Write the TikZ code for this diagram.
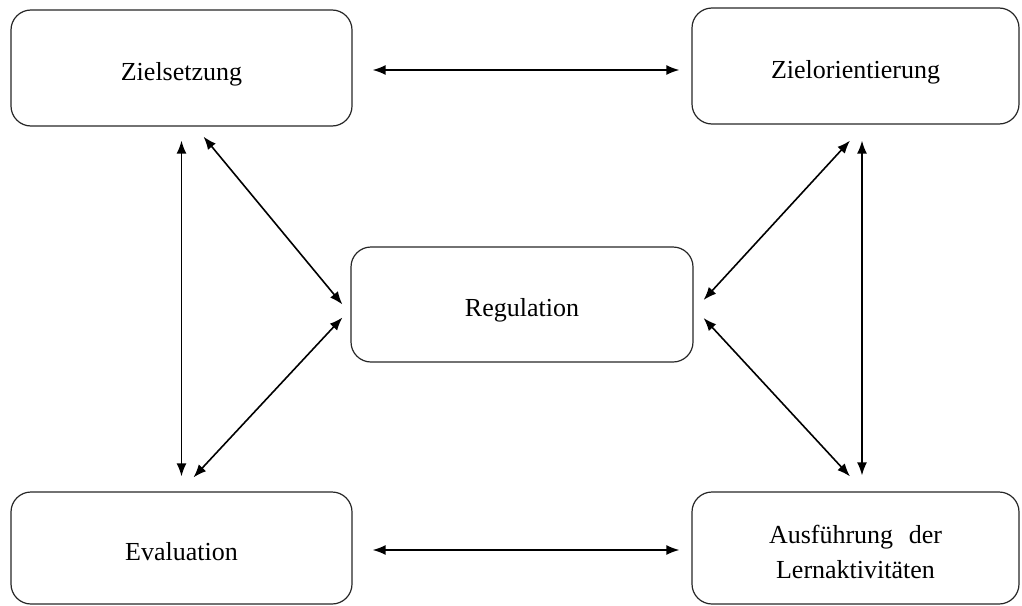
\documentclass[tikz,border=0pt]{standalone}
\usepackage{fontspec}
\setmainfont{Liberation Serif}
\usetikzlibrary{arrows.meta}
\begin{document}
\begin{tikzpicture}[x=1pt,y=-1pt,
  phase/.style={draw=black!85, line width=1.2pt, rounded corners=20pt,
    align=center, inner sep=0pt, font=\fontsize{26}{35}\selectfont},
  link/.style={line width=1.6pt, {Latex[length=13pt,width=10pt]}-{Latex[length=13pt,width=10pt]}}]
  \useasboundingbox (0,0) rectangle (1022,605);
  % phases of the cycle
  \node[phase, minimum width=341pt, minimum height=116pt, text height=30pt] (zs) at (181.5,68) {Zielsetzung};
  \node[phase, minimum width=327pt, minimum height=116pt, text height=30pt] (zo) at (855.5,66) {Zielorientierung};
  \node[phase, minimum width=342pt, minimum height=115pt, text height=30pt] (rg) at (522,304.5) {Regulation};
  \node[phase, minimum width=341pt, minimum height=112pt, text height=26pt] (ev) at (181.5,548) {Evaluation};
  \node[phase, minimum width=327pt, minimum height=112pt, text height=62pt] (au) at (855.5,548) {Ausführung\hspace{0.6em}der\\Lernaktivitäten};
  % horizontal links
  \draw[link] ([xshift=20pt,yshift=-2pt]zs.east) -- ([xshift=-12pt,yshift=-2pt]zs.east -| zo.west);
  \draw[link] ([xshift=20pt,yshift=-2pt]ev.east) -- ([xshift=-12pt,yshift=-2pt]ev.east -| au.west);
  % vertical links
  \draw[link] ([yshift=-14pt]zs.south) -- ([yshift=15pt]ev.north);
  \draw[link] ([xshift=6.5pt,yshift=-16pt]zo.south) -- ([xshift=6.5pt,yshift=16pt]au.north);
  % links to the regulation box
  \draw[link] ([xshift=22pt,yshift=-10pt]zs.south) -- ([xshift=-8pt]rg.west);
  \draw[link] ([xshift=12pt,yshift=14pt]ev.north) -- ([xshift=-8pt,yshift=-13pt]rg.west);
  \draw[link] ([xshift=-5.5pt,yshift=-16pt]zo.south) -- ([xshift=10pt,yshift=4.5pt]rg.east);
  \draw[link] ([xshift=-5.5pt,yshift=15pt]au.north) -- ([xshift=10pt,yshift=-13.5pt]rg.east);
\end{tikzpicture}
\end{document}
